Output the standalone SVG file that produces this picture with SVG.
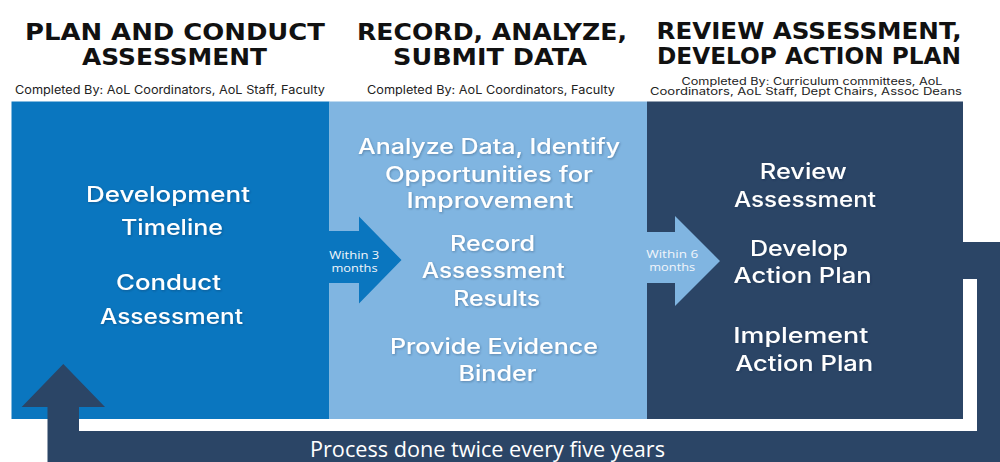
<svg xmlns="http://www.w3.org/2000/svg" width="1000" height="462" viewBox="0 0 1000 462">
  <defs>
    <filter id="soft" x="-10%" y="-30%" width="120%" height="160%">
      <feDropShadow dx="0.8" dy="1" stdDeviation="1.2" flood-color="#1a2a40" flood-opacity="0.35"/>
    </filter>
    <style>
      .blue1 { fill: #0a76bf; }
      .blue2 { fill: #80b5e1; }
      .navy  { fill: #2b4566; }
      .head  { font-family: "DejaVu Sans", "Liberation Sans", sans-serif; font-weight: 700; font-size: 23px; fill: #111; text-anchor: middle; }
      .sub   { font-family: Inter, "Liberation Sans", sans-serif; font-weight: 400; font-size: 11.5px; fill: #222; text-anchor: middle; }
      .sub.sm { font-size: 10.2px; }
      .step  { font-family: Inter, "Liberation Sans", sans-serif; font-weight: 500; font-size: 21px; fill: #fff; text-anchor: middle; filter: url(#soft); }
      .lbl   { font-family: "Open Sans", "Liberation Sans", sans-serif; font-size: 11px; fill: #f2f6fb; text-anchor: middle; }
      .loop  { font-family: "Open Sans", "Liberation Sans", sans-serif; font-size: 21.5px; fill: #fff; text-anchor: middle; }
    </style>
  </defs>

  <rect width="1000" height="462" fill="#fff"/>

  <!-- Phase 1 -->
  <g id="plan-conduct">
    <text class="head" x="175" y="39.5" textLength="300" lengthAdjust="spacingAndGlyphs">PLAN AND CONDUCT</text>
    <text class="head" x="174.5" y="65" textLength="185" lengthAdjust="spacingAndGlyphs">ASSESSMENT</text>
    <text class="sub" x="170" y="94.3" textLength="310" lengthAdjust="spacingAndGlyphs">Completed By: AoL Coordinators, AoL Staff, Faculty</text>
    <rect class="blue1" x="11.5" y="101.5" width="318" height="317.5"/>
    <text class="step" x="168" y="201.7" textLength="164" lengthAdjust="spacingAndGlyphs">Development</text>
    <text class="step" x="172" y="235" textLength="102" lengthAdjust="spacingAndGlyphs">Timeline</text>
    <text class="step" x="168.5" y="290" textLength="105" lengthAdjust="spacingAndGlyphs">Conduct</text>
    <text class="step" x="171.5" y="324" textLength="143" lengthAdjust="spacingAndGlyphs">Assessment</text>
  </g>

  <!-- Phase 2 -->
  <g id="record-analyze">
    <text class="head" x="492" y="39.5" textLength="270" lengthAdjust="spacingAndGlyphs">RECORD, ANALYZE,</text>
    <text class="head" x="490" y="64.5" textLength="194" lengthAdjust="spacingAndGlyphs">SUBMIT DATA</text>
    <text class="sub" x="491" y="94.3" textLength="248" lengthAdjust="spacingAndGlyphs">Completed By: AoL Coordinators, Faculty</text>
    <rect class="blue2" x="329.5" y="101.5" width="317.5" height="317.5"/>
    <text class="step" x="489" y="154.3" textLength="262" lengthAdjust="spacingAndGlyphs">Analyze Data, Identify</text>
    <text class="step" x="489" y="181.7" textLength="208" lengthAdjust="spacingAndGlyphs">Opportunities for</text>
    <text class="step" x="490" y="208.3" textLength="167" lengthAdjust="spacingAndGlyphs">Improvement</text>
    <text class="step" x="492.5" y="251" textLength="85" lengthAdjust="spacingAndGlyphs">Record</text>
    <text class="step" x="493.3" y="278" textLength="143" lengthAdjust="spacingAndGlyphs">Assessment</text>
    <text class="step" x="496.7" y="305.7" textLength="87" lengthAdjust="spacingAndGlyphs">Results</text>
    <text class="step" x="494" y="354" textLength="208" lengthAdjust="spacingAndGlyphs">Provide Evidence</text>
    <text class="step" x="497.5" y="381" textLength="78" lengthAdjust="spacingAndGlyphs">Binder</text>
  </g>

  <!-- Phase 3 -->
  <g id="review-develop">
    <text class="head" x="809" y="38.5" textLength="305" lengthAdjust="spacingAndGlyphs">REVIEW ASSESSMENT,</text>
    <text class="head" x="809" y="63.5" textLength="304" lengthAdjust="spacingAndGlyphs">DEVELOP ACTION PLAN</text>
    <text class="sub sm" x="812" y="84.5" textLength="261" lengthAdjust="spacingAndGlyphs">Completed By: Curriculum committees, AoL</text>
    <text class="sub sm" x="806" y="94.6" textLength="312" lengthAdjust="spacingAndGlyphs">Coordinators,  AoL Staff, Dept Chairs, Assoc Deans</text>
    <rect class="navy" x="647" y="101.5" width="316" height="317.5"/>
    <text class="step" x="803.3" y="179.3" textLength="87" lengthAdjust="spacingAndGlyphs">Review</text>
    <text class="step" x="805" y="206.7" textLength="142" lengthAdjust="spacingAndGlyphs">Assessment</text>
    <text class="step" x="799" y="256" textLength="98" lengthAdjust="spacingAndGlyphs">Develop</text>
    <text class="step" x="802.5" y="282.7" textLength="138" lengthAdjust="spacingAndGlyphs">Action Plan</text>
    <text class="step" x="800.8" y="343.3" textLength="135" lengthAdjust="spacingAndGlyphs">Implement</text>
    <text class="step" x="804.2" y="370.7" textLength="138" lengthAdjust="spacingAndGlyphs">Action Plan</text>
  </g>

  <!-- Connectors -->
  <g id="connectors">
    <!-- phase 1 to phase 2 -->
    <polygon class="blue1" points="329,231 359,231 359,216.5 401.5,260 359,303.5 359,283 329,283"/>
    <text class="lbl" x="354.3" y="258.8" textLength="50" lengthAdjust="spacingAndGlyphs">Within 3</text>
    <text class="lbl" x="354.5" y="272" textLength="46" lengthAdjust="spacingAndGlyphs">months</text>

    <!-- phase 2 to phase 3 -->
    <polygon class="blue2" points="646.5,232 675,232 675,216 720,261 675,306 675,283 646.5,283"/>
    <text class="lbl" x="672.2" y="258.2" textLength="52" lengthAdjust="spacingAndGlyphs">Within 6</text>
    <text class="lbl" x="672.2" y="271.4" textLength="46" lengthAdjust="spacingAndGlyphs">months</text>

    <!-- loop back from phase 3 to phase 1 -->
    <polygon class="navy" points="962,242 1000,242 1000,462 47.5,462 47.5,407 21.7,407 63.3,364 105,407 79,407 79,431 977,431 977,279 962,279"/>
    <text class="loop" x="487.5" y="457" textLength="355" lengthAdjust="spacingAndGlyphs">Process done twice every five years</text>
  </g>
</svg>
